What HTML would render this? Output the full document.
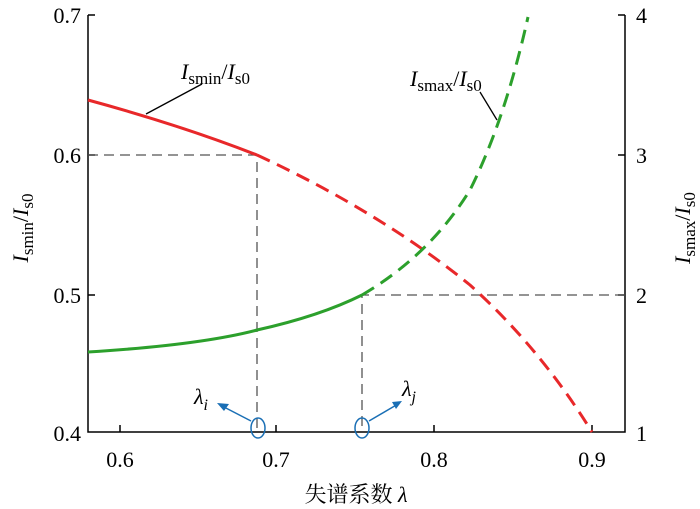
<!DOCTYPE html>
<html><head><meta charset="utf-8"><style>body{margin:0;background:#fff}svg{display:block}text{font-family:"Liberation Serif","Noto Serif CJK SC",serif;fill:#000}</style></head><body>
<svg width="700" height="509" viewBox="0 0 700 509">
<g stroke="#000" stroke-width="1.5" fill="none">
<path d="M88,15 V432 H625 V15"/>
<path d="M88,15 H95 M88,155 H95 M88,295 H95"/>
<path d="M625,15 H618 M625,155 H618 M625,295 H618"/>
<path d="M120,432 V425 M276,432 V425 M434,432 V425 M592,432 V425"/>
</g>
<g stroke="#555" stroke-width="1.3" stroke-dasharray="10,6" fill="none">
<path d="M88,155 H257 V432"/>
<path d="M625,295 H362 V432"/>
</g>
<path d="M88,100 Q180,125 257,155" stroke="#e8282a" stroke-width="3" fill="none"/>
<path d="M257,155 Q380,212 470,285 Q540,348 592,432" stroke="#e8282a" stroke-width="3" fill="none" stroke-dasharray="14,8"/>
<path d="M88,352 Q200,345 257,330 Q320,316 362,295" stroke="#2ca02c" stroke-width="3" fill="none"/>
<path d="M362,295 Q430,255 470,190 Q505,120 528,17" stroke="#2ca02c" stroke-width="3" fill="none" stroke-dasharray="14,8"/>
<path d="M146,114 L202,84" stroke="#000" stroke-width="1.3"/>
<path d="M497,120 L480,92" stroke="#000" stroke-width="1.3"/>
<g stroke="#1a6fb5" stroke-width="1.5" fill="none">
<ellipse cx="258" cy="428" rx="7" ry="10"/>
<ellipse cx="362" cy="428" rx="7" ry="10"/>
<path d="M251,421 L222,406"/><path d="M369,421 L398,404"/>
</g>
<path d="M217,403 L229,404 L224,411Z M402,401 L392,402 L396,409Z" fill="#1a6fb5"/>
<g font-size="22">
<text x="81" y="23" text-anchor="end">0.7</text>
<text x="81" y="163" text-anchor="end">0.6</text>
<text x="81" y="303" text-anchor="end">0.5</text>
<text x="81" y="441" text-anchor="end">0.4</text>
<text x="636" y="23">4</text><text x="636" y="163">3</text><text x="636" y="303">2</text><text x="636" y="441">1</text>
<text x="120" y="467" text-anchor="middle">0.6</text>
<text x="276" y="467" text-anchor="middle">0.7</text>
<text x="434" y="467" text-anchor="middle">0.8</text>
<text x="592" y="467" text-anchor="middle">0.9</text>
<text x="356" y="502" text-anchor="middle">失谱系数 <tspan font-style="italic">λ</tspan></text>
<text x="181" y="79"><tspan font-style="italic">I</tspan><tspan font-size="17" dy="5">smin</tspan><tspan dy="-5">/</tspan><tspan font-style="italic">I</tspan><tspan font-size="17" dy="5">s0</tspan></text>
<text x="410" y="86"><tspan font-style="italic">I</tspan><tspan font-size="17" dy="5">smax</tspan><tspan dy="-5">/</tspan><tspan font-style="italic">I</tspan><tspan font-size="17" dy="5">s0</tspan></text>
<text x="194" y="404" font-style="italic">λ<tspan font-size="16" dy="6">i</tspan></text>
<text x="402" y="396" font-style="italic">λ<tspan font-size="16" dy="6">j</tspan></text>
<text transform="translate(28,228) rotate(-90)" text-anchor="middle"><tspan font-style="italic">I</tspan><tspan font-size="17" dy="5">smin</tspan><tspan dy="-5">/</tspan><tspan font-style="italic">I</tspan><tspan font-size="17" dy="5">s0</tspan></text>
<text transform="translate(690,228) rotate(-90)" text-anchor="middle"><tspan font-style="italic">I</tspan><tspan font-size="17" dy="5">smax</tspan><tspan dy="-5">/</tspan><tspan font-style="italic">I</tspan><tspan font-size="17" dy="5">s0</tspan></text>
</g>
</svg>
</body></html>
